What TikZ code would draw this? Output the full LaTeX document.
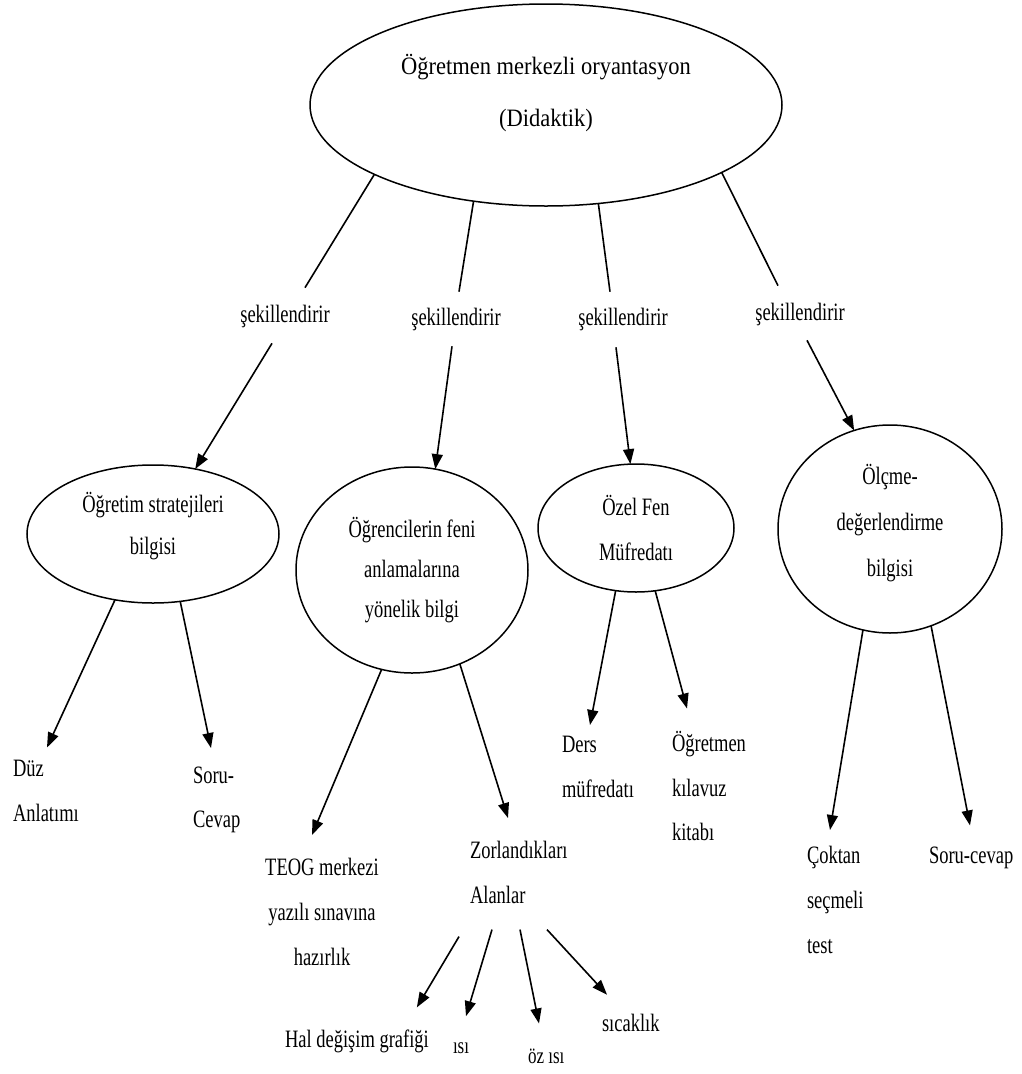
\documentclass[tikz,border=0pt]{standalone}
\usepackage{fontspec}
\setmainfont{Liberation Serif}[FakeStretch=0.74]
\newfontfamily\widerserif{Liberation Serif}[FakeStretch=0.9]
\usetikzlibrary{shapes.geometric,arrows.meta}

\begin{document}
\begin{tikzpicture}[x=1pt,y=-1pt,
  bubble/.style={draw, ellipse, line width=1.5pt, inner sep=0pt, outer sep=0pt, align=center},
  verb/.style={inner sep=0pt, outer sep=0pt, font=\fontsize{25}{30}\selectfont},
  leaf/.style={inner sep=0pt, outer sep=0pt, align=left, font=\fontsize{25}{45}\selectfont},
  small leaf/.style={leaf, font=\fontsize{23}{28}\selectfont},
  link/.style={line width=1.6pt},
  arrow link/.style={link, -{Triangle[length=15pt,width=11pt]}}
]
\useasboundingbox (0,0) rectangle (1021,1074);
\fill[white] (0,0) rectangle (1021,1074);

% central concept
\node[bubble, minimum width=472pt, minimum height=202pt,
      font=\widerserif\fontsize{25}{52}\selectfont] (T) at (546,105)
  {Öğretmen merkezli oryantasyon\\(Didaktik)\rule[-29pt]{0pt}{0pt}};

% the four knowledge components
\node[bubble, minimum width=252pt, minimum height=138pt,
      font=\fontsize{25}{42}\selectfont] (E1) at (153,534)
  {Öğretim stratejileri\\bilgisi\rule[-21pt]{0pt}{0pt}};
\node[bubble, minimum width=232pt, minimum height=206pt,
      font=\fontsize{25}{40}\selectfont] (E2) at (412,570)
  {Öğrencilerin feni\\anlamalarına\\yönelik bilgi};
\node[bubble, minimum width=196pt, minimum height=128pt,
      font=\fontsize{25}{45}\selectfont] (E3) at (636,528)
  {Özel Fen\\Müfredatı};
\node[bubble, minimum width=224pt, minimum height=208pt,
      font=\fontsize{25}{46}\selectfont] (E4) at (890,529)
  {Ölçme-\\değerlendirme\\bilgisi\rule[-17pt]{0pt}{0pt}};

% relation labels
\node[verb, anchor=base] (L1) at (285,322) {şekillendirir};
\node[verb, anchor=base] (L2) at (456,325) {şekillendirir};
\node[verb, anchor=base] (L3) at (623,325) {şekillendirir};
\node[verb, anchor=base] (L4) at (800,320) {şekillendirir};

% leaves
\node[leaf, anchor=north west] (duz) at (13,760.5) {Düz\\Anlatımı};
\node[leaf, anchor=north west, font=\fontsize{25}{44}\selectfont] (soru) at (193,767) {Soru-\\Cevap};
\node[leaf, align=center, anchor=north] (teog) at (322,858) {TEOG merkezi\\yazılı sınavına\\hazırlık};
\node[leaf, anchor=north west] (zorl) at (470,841) {Zorlandıkları\\Alanlar};
\node[leaf, anchor=north west] (ders) at (562,736) {Ders\\müfredatı};
\node[leaf, anchor=north west, font=\fontsize{25}{44.5}\selectfont] (kilavuz) at (672,731.5) {Öğretmen\\kılavuz\\kitabı};
\node[leaf, anchor=north west] (coktan) at (807,846) {Çoktan\\seçmeli\\test};
\node[leaf, anchor=base west] (sorucevap) at (929,863) {Soru-cevap};
\node[leaf, anchor=base west] (hal) at (285,1047) {Hal değişim grafiği};
\node[small leaf, anchor=base west] (isi) at (453,1053) {ısı};
\node[small leaf, anchor=base west] (ozisi) at (528,1063) {öz ısı};
\node[leaf, anchor=base west] (sicaklik) at (602,1031) {sıcaklık};

% central concept to labels
\draw[link] (T.202) -- ([shift={(20,-17)}]L1.north);
\draw[link] (T.233) -- ([shift={(3,-16)}]L2.north);
\draw[link] (T.298) -- ([shift={(-13,-16)}]L3.north);
\draw[link] (T.339) -- ([shift={(-22,-17)}]L4.north);

% labels to components
\draw[arrow link] ([shift={(-13,16)}]L1.south) -- (E1.57);
\draw[arrow link] ([shift={(-4,16)}]L2.south) -- (E2.77);
\draw[arrow link] ([shift={(-7,17)}]L3.south) -- (E3.95);
\draw[arrow link] ([shift={(7,15)}]L4.south) -- (E4.110);

% components to leaves
\draw[arrow link] (E1.240) -- ([shift={(34,-13)}]duz.north west);
\draw[arrow link] (E1.292) -- ([shift={(18,-19)}]soru.north west);
\draw[arrow link] (E2.253) -- ([shift={(-10,-23)}]teog.north);
\draw[arrow link] (E2.297) -- ([shift={(38,-23)}]zorl.north west);
\draw[arrow link] (E3.252) -- ([shift={(28,-11)}]ders.north west);
\draw[arrow link] (E3.287) -- ([shift={(15,-23)}]kilavuz.north west);
\draw[arrow link] (E4.255) -- ([shift={(23,-16)}]coktan.north west);
\draw[arrow link] (E4.293) -- ([shift={(41,-21)}]sorucevap.north west);

% difficult topics
\draw[arrow link] ([shift={(-11,33)}]zorl.south west) -- ([shift={(-12,-22)}]hal.north east);
\draw[arrow link] ([shift={(22,26)}]zorl.south west) -- ([shift={(13,-26)}]isi.north west);
\draw[arrow link] ([shift={(50,26)}]zorl.south west) -- ([shift={(11,-25)}]ozisi.north west);
\draw[arrow link] ([shift={(77,26)}]zorl.south west) -- ([shift={(5,-19)}]sicaklik.north west);
\end{tikzpicture}
\end{document}
